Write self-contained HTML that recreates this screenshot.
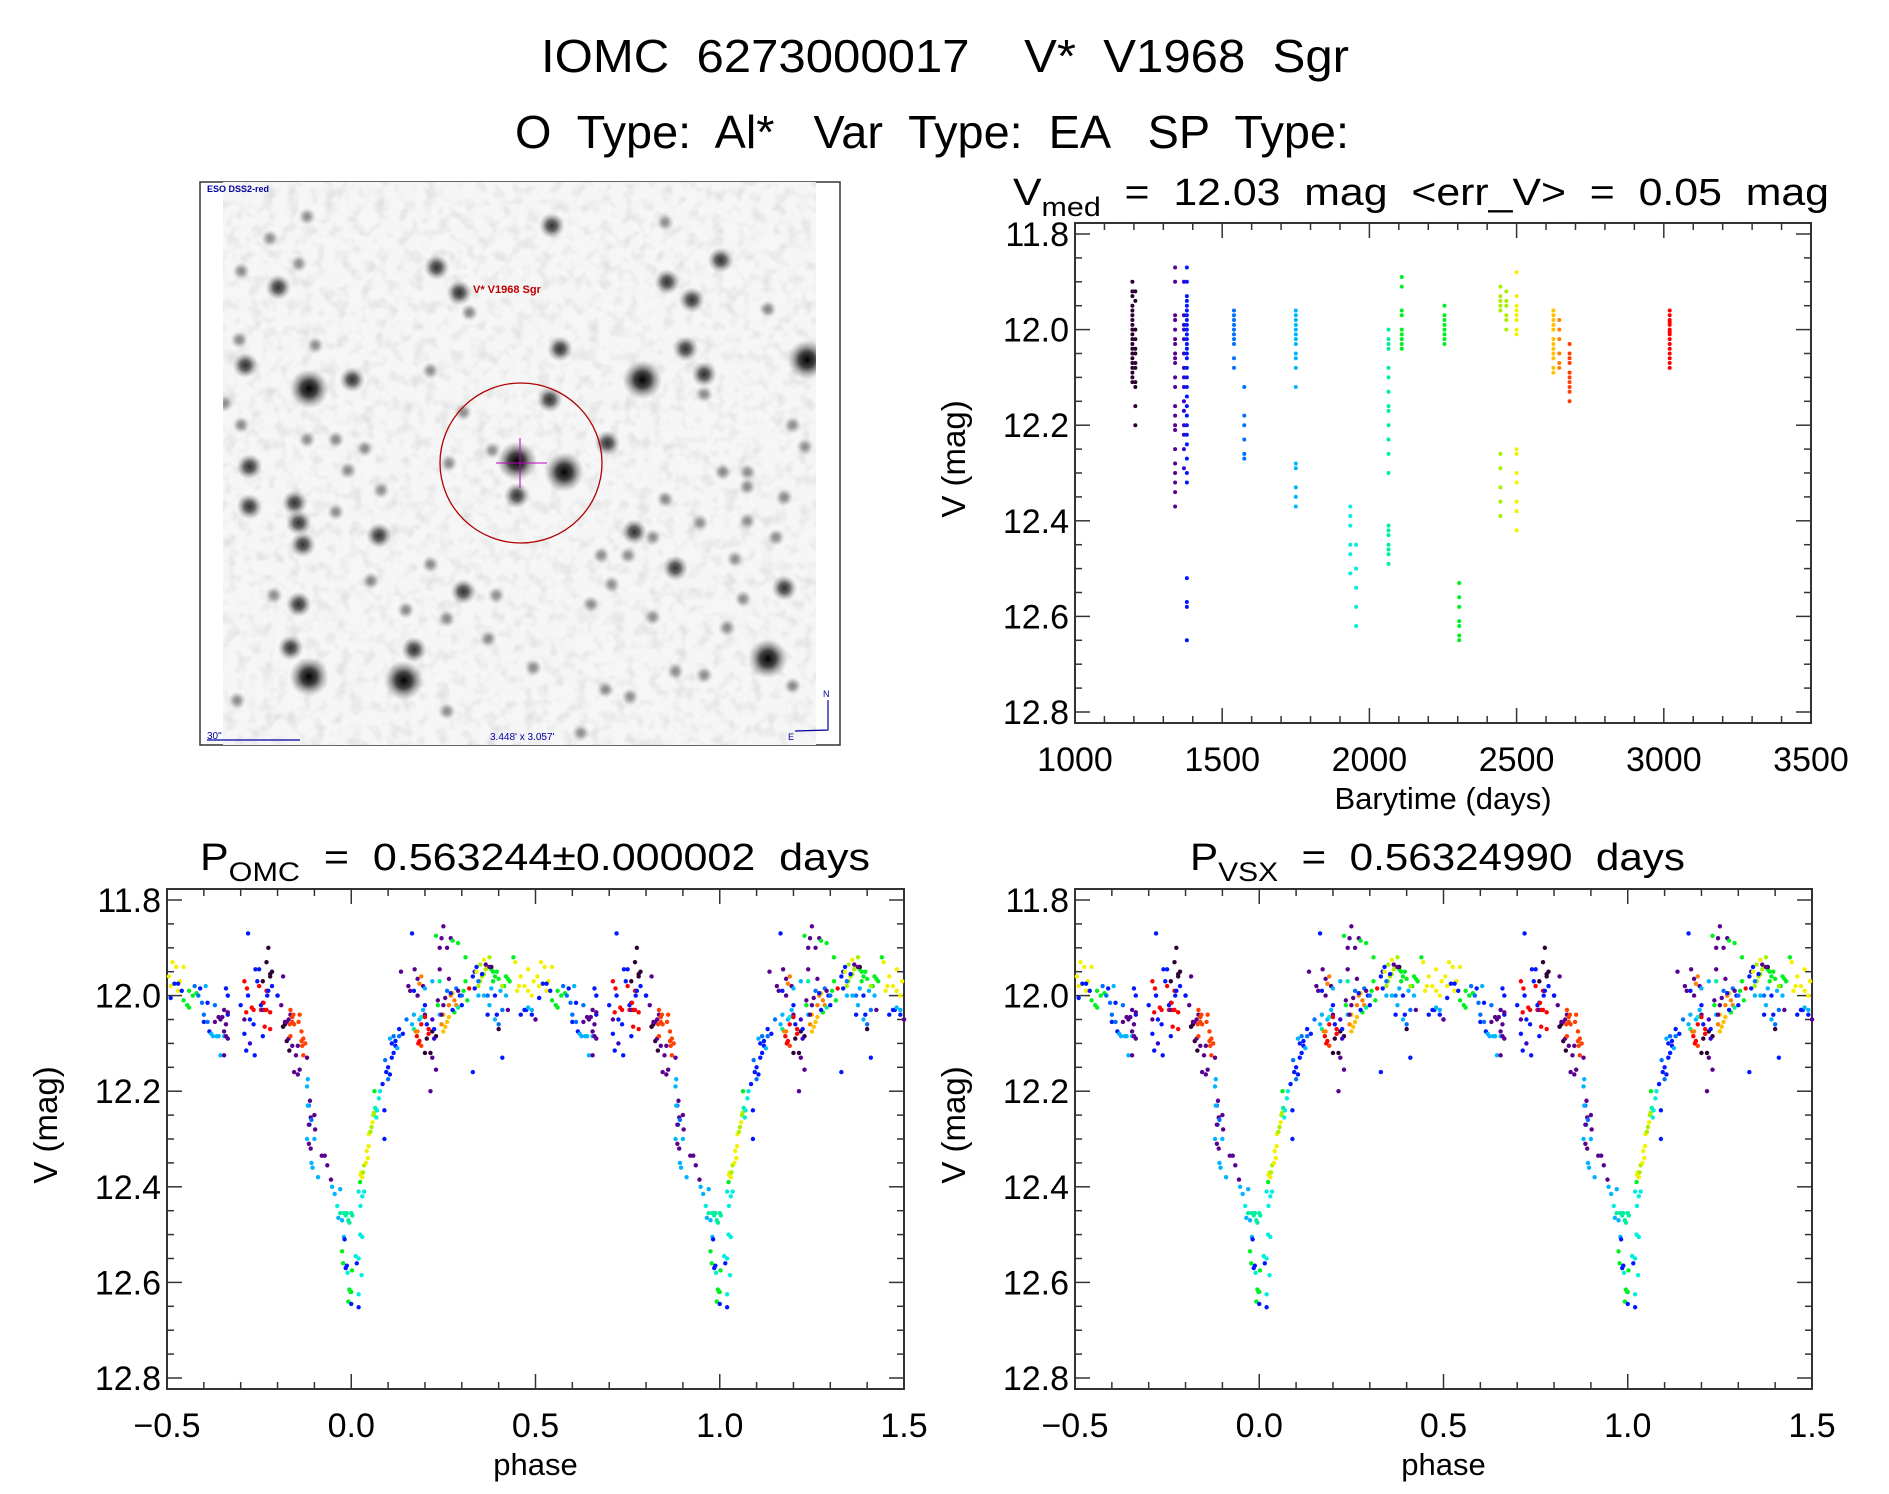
<!DOCTYPE html>
<html><head><meta charset="utf-8"><style>
html,body{margin:0;padding:0;background:#fff;}
svg{display:block;font-family:"Liberation Sans",sans-serif;}
text,tspan{white-space:pre;}
</style></head><body>
<svg id="root" width="1889" height="1494" viewBox="0 0 1889 1494" xml:space="preserve">
<defs>
<radialGradient id="starG"><stop offset="0" stop-color="#000" stop-opacity="1"/><stop offset="0.4" stop-color="#222" stop-opacity="0.85"/><stop offset="1" stop-color="#888" stop-opacity="0"/></radialGradient>
<filter id="noise" x="0" y="0" width="100%" height="100%"><feTurbulence type="fractalNoise" baseFrequency="0.08" numOctaves="2" seed="4"/><feColorMatrix type="matrix" values="0 0 0 0 0.45  0 0 0 0 0.45  0 0 0 0 0.45  0 0 0 1.3 -0.6"/></filter>
<clipPath id="imgClip"><rect x="223" y="182" width="593" height="563"/></clipPath>
</defs>
<text x="945" y="72" font-size="46" text-anchor="middle" textLength="808" lengthAdjust="spacingAndGlyphs">IOMC  6273000017    V*  V1968  Sgr</text>
<text x="932" y="148" font-size="46" text-anchor="middle" textLength="834" lengthAdjust="spacingAndGlyphs">O  Type:  Al*   Var  Type:  EA   SP  Type:</text>

<g id="finder">
<rect x="200" y="182" width="640" height="563" fill="#fff" stroke="#333" stroke-width="1.5"/>
<rect x="223" y="182" width="593" height="563" fill="#f6f6f6"/>
<rect x="223" y="182" width="593" height="563" filter="url(#noise)" opacity="0.6"/>
<g id="stars" clip-path="url(#imgClip)"></g>
<ellipse cx="521" cy="463" rx="81" ry="80" fill="none" stroke="#b00000" stroke-width="1.3"/>
<line x1="496" y1="463" x2="547" y2="463" stroke="#c000c0" stroke-width="1"/>
<line x1="520" y1="438" x2="520" y2="488" stroke="#c000c0" stroke-width="1"/>
<text x="473" y="293" font-size="11" fill="#c00000" font-weight="bold">V* V1968 Sgr</text>
<text x="207" y="192" font-size="9" fill="#0000a0" font-weight="bold">ESO DSS2-red</text>
<text x="207" y="739" font-size="10" fill="#0000a0">30"</text>
<line x1="207" y1="740" x2="300" y2="740" stroke="#0000a0" stroke-width="1.2"/>
<text x="490" y="740" font-size="10" fill="#0000a0">3.448' x 3.057'</text>
<polyline points="795,731 828,730 828,700" fill="none" stroke="#0000a0" stroke-width="1.2"/>
<text x="823" y="697" font-size="9" fill="#0000a0">N</text>
<text x="788" y="740" font-size="9" fill="#0000a0">E</text>
</g>

<g id="tsPanel"></g>
<g id="omcPanel"></g>
<g id="vsxPanel"></g>
</svg>
<script>
// ---------- data ----------
const palette = ["#2e0034","#5a0090","#3a00d0","#0018ff","#0070ff","#00b4ff","#00eee0","#00f0a0","#00f020","#a8f000","#f4f000","#ffc000","#ff8000","#ff4000","#ff0000"];

const clusterTimes  = [1195,1205,1340,1370,1380,1540,1575,1750,1935,1955,2065,2110,2255,2305,2445,2465,2500,2625,2645,2680,3020];
const clusterColors = [0,0,1,2,3,4,4,5,6,6,7,8,8,8,9,9,10,11,12,13,14];
const clusterMags = [
 [11.9,11.92,11.93,11.95,11.96,11.97,11.98,11.99,12.0,12.01,12.02,12.03,12.04,12.05,12.06,12.07,12.08,12.09,12.1,12.11],
 [11.92,11.94,12.0,12.02,12.04,12.05,12.07,12.08,12.11,12.12,12.16,12.2],
 [11.87,11.9,11.97,11.98,12.0,12.02,12.03,12.05,12.06,12.07,12.1,12.12,12.16,12.18,12.2,12.21,12.25,12.28,12.3,12.32,12.34,12.37],
 [11.9,11.97,11.99,12.0,12.02,12.05,12.08,12.1,12.12,12.15,12.17,12.2,12.22,12.25,12.29],
 [11.87,11.9,11.93,11.94,11.95,11.96,11.97,11.98,11.99,12.0,12.01,12.02,12.03,12.04,12.05,12.06,12.08,12.1,12.12,12.14,12.16,12.18,12.2,12.22,12.24,12.27,12.3,12.32,12.52,12.57,12.58,12.65],
 [11.96,11.97,11.98,11.99,12.0,12.01,12.02,12.03,12.06,12.08],
 [12.12,12.18,12.2,12.23,12.26,12.27],
 [11.96,11.97,11.98,11.99,12.0,12.01,12.02,12.03,12.05,12.06,12.08,12.12,12.28,12.29,12.33,12.35,12.37],
 [12.37,12.39,12.41,12.45,12.47,12.51],
 [12.45,12.5,12.54,12.58,12.62],
 [12.0,12.02,12.03,12.04,12.08,12.1,12.13,12.16,12.17,12.2,12.23,12.26,12.3,12.41,12.42,12.43,12.45,12.46,12.47,12.49],
 [11.89,11.91,11.96,11.97,12.0,12.01,12.02,12.03,12.04],
 [11.95,11.97,11.98,11.99,12.0,12.01,12.02,12.03],
 [12.53,12.56,12.58,12.61,12.62,12.64,12.65],
 [11.91,11.93,11.94,11.95,11.96,12.26,12.29,12.33,12.36,12.39],
 [11.92,11.94,11.95,11.97,11.98,12.0],
 [11.88,11.93,11.95,11.96,11.97,11.98,12.0,12.01,12.25,12.26,12.3,12.32,12.36,12.38,12.42],
 [11.96,11.97,11.98,11.99,12.0,12.02,12.03,12.04,12.05,12.06,12.08,12.09],
 [11.98,12.0,12.02,12.05,12.07,12.08],
 [12.03,12.05,12.06,12.07,12.09,12.1,12.11,12.12,12.13,12.15],
 [11.96,11.97,11.98,11.985,11.99,12.0,12.005,12.01,12.02,12.03,12.04,12.05,12.06,12.07,12.08]
];
const timeTicks = [1000,1500,2000,2500,3000,3500];
const magTicks = [11.8,12.0,12.2,12.4,12.6,12.8];
const phaseTicks = [-0.5,0.0,0.5,1.0,1.5];

// phased light curve: phase, magnitude, colour index
const phases = [-0.495,-0.49,-0.485,-0.475,-0.47,-0.465,-0.455,-0.46,-0.49,-0.48,-0.47,-0.455,-0.445,-0.44,-0.43,-0.42,-0.44,-0.425,-0.415,-0.405,-0.41,-0.4,-0.395,-0.4,-0.39,-0.385,-0.38,-0.39,-0.37,-0.365,-0.375,-0.37,-0.36,-0.355,-0.35,-0.345,-0.34,-0.345,-0.355,-0.36,-0.34,-0.335,-0.345,-0.335,-0.335,-0.335,-0.34,-0.345,
 -0.3,-0.29,-0.29,-0.285,-0.285,-0.29,-0.283,-0.28,-0.28,-0.275,-0.275,-0.27,-0.265,-0.265,-0.262,-0.26,-0.255,-0.25,-0.25,-0.245,-0.245,-0.24,-0.24,-0.24,-0.235,-0.235,-0.23,-0.23,-0.228,-0.238,-0.23,-0.24,-0.225,-0.22,-0.22,-0.215,-0.225,-0.22,-0.22,-0.215,-0.2,
 -0.2,-0.185,-0.185,-0.19,-0.185,-0.18,-0.18,-0.175,-0.17,-0.175,-0.168,-0.165,-0.17,-0.167,-0.165,-0.16,-0.16,-0.157,-0.155,-0.16,-0.15,-0.145,-0.143,-0.14,-0.135,-0.133,-0.13,-0.125,-0.13,-0.135,-0.165,-0.155,-0.145,-0.14,-0.12,-0.118,-0.12,-0.112,-0.115,-0.118,-0.11,-0.108,-0.113,-0.115,-0.12,-0.1,-0.1,-0.098,-0.115,-0.11,-0.108,-0.105,-0.09,-0.08,-0.072,-0.065,-0.055,-0.052,-0.045,
 -0.03,-0.038,-0.035,-0.025,-0.02,-0.015,-0.012,-0.008,-0.005,0.0,0.003,-0.03,-0.02,-0.018,-0.025,-0.022,-0.015,-0.012,0.002,0.015,0.012,0.02,0.024,0.03,0.028,-0.01,-0.005,0.0,-0.002,-0.008,0.0,0.02,
 0.02,0.025,0.03,0.035,0.02,0.024,0.025,0.027,0.03,0.032,0.035,0.04,0.042,0.047,0.045,0.048,0.052,0.055,0.058,0.06,0.062,0.065,0.068,0.07,0.075,0.078,0.063,0.09,0.085,
 0.09,0.095,0.1,0.092,0.1,0.105,0.11,0.115,0.12,0.12,0.125,0.13,0.13,0.105,0.11,0.115,0.14,
 0.15,0.155,0.16,0.17,0.172,0.18,0.17,0.165,0.17,0.175,0.178,0.182,0.185,0.19,0.19,0.18,0.185,0.19,0.195,0.2,0.2,0.205,0.21,0.2,0.21,0.205,0.2,0.215,0.22,0.22,0.225,0.23,0.225,0.22,0.215,0.23,0.235,0.24,0.245,0.25,0.255,0.26,0.265,0.25,0.245,0.25,0.255,0.26,0.265,0.27,0.275,0.28,0.285,0.29,0.28,0.275,0.27,0.265,0.285,0.29,0.295,0.3,0.3,0.305,0.31,0.315,0.235,0.24,0.245,0.26,0.25,0.24,0.135,0.165,0.27,0.29,0.275,0.23,0.24,0.22,0.195,0.18,0.19,0.185,0.2,
 0.32,0.33,0.335,0.34,0.345,0.35,0.355,0.36,0.365,0.37,0.34,0.35,0.36,0.375,0.38,0.385,0.39,0.395,0.4,0.385,0.38,0.375,0.365,0.355,0.345,0.335,0.345,0.36,0.37,0.38,0.375,0.37,0.39,0.395,0.4,0.41,0.415,0.42,0.425,0.43,0.41,0.405,0.42,0.425,0.39,0.4,0.41,0.33,0.31,0.44,0.45,0.46,0.47,0.48,0.49,0.455,0.48,0.445,0.46,0.475,0.49,0.5,0.47,0.48,0.5,0.495,0.49];
const mags = [11.96,11.98,11.93,11.94,11.99,11.97,11.94,11.99,12.005,11.975,11.975,12.01,12.02,11.99,12.0,11.995,12.025,11.98,12.0,12.015,11.985,12.04,11.98,12.055,12.055,12.075,12.08,12.015,12.02,12.085,12.085,12.055,12.045,12.05,12.045,12.03,12.06,12.085,12.125,12.085,12.085,12.09,12.075,12.04,12.035,12.0,11.985,12.125,
 12.02,12.05,12.08,12.115,12.035,11.97,11.985,12.0,11.87,12.05,12.1,12.025,12.03,12.06,12.125,11.945,11.97,11.945,11.98,12.03,12.02,12.015,12.085,12.03,12.065,12.03,11.99,12.03,12.0,12.015,11.93,11.97,11.9,11.955,11.96,11.95,11.99,12.035,12.07,11.98,12.0,12.0,
 11.96,12.065,12.02,12.065,12.06,12.055,12.095,12.09,12.055,12.115,12.04,12.05,12.06,12.03,12.055,12.045,12.04,12.06,12.105,12.125,12.105,12.055,12.04,12.075,12.105,12.09,12.1,12.125,12.095,12.085,12.16,12.165,12.155,12.13,12.175,12.19,12.22,12.23,12.23,12.255,12.26,12.27,12.27,12.3,12.3,12.25,12.28,12.31,12.32,12.35,12.36,12.38,12.335,12.335,12.355,12.385,12.4,12.415,12.405,
 12.44,12.465,12.47,12.455,12.46,12.455,12.47,12.475,12.455,12.46,12.455,12.505,12.51,12.535,12.56,12.57,12.565,12.575,12.56,12.545,12.55,12.5,12.505,12.585,12.58,12.615,12.62,12.62,12.64,12.645,12.652,12.625,
 12.44,12.42,12.41,12.41,12.39,12.375,12.37,12.38,12.37,12.355,12.35,12.325,12.315,12.34,12.29,12.285,12.275,12.265,12.25,12.245,12.235,12.255,12.24,12.215,12.2,12.2,12.3,12.185,12.24,
 12.16,12.15,12.135,12.175,12.165,12.13,12.12,12.105,12.095,12.11,12.085,12.07,12.09,12.1,12.085,12.08,12.05,
 11.98,11.99,11.99,11.945,12.0,12.04,12.06,12.07,12.075,12.085,12.1,12.095,12.105,12.06,12.075,12.05,12.045,12.03,12.02,12.04,12.06,12.07,12.045,12.08,12.09,12.12,12.12,12.075,12.05,12.07,12.085,12.09,12.13,12.2,12.155,12.01,12.04,12.06,12.075,12.065,12.055,12.045,12.04,12.04,12.02,12.005,11.99,12.02,12.0,11.995,12.01,12.02,12.025,12.035,12.03,11.995,11.965,11.985,11.99,12.0,12.02,12.0,11.99,11.97,12.01,12.02,11.9,11.88,11.9,11.855,11.945,11.95,11.87,11.88,11.89,11.885,11.875,11.97,11.97,11.98,11.965,11.96,11.975,11.985,11.985,
 11.96,11.95,11.94,11.98,11.97,11.96,11.955,11.945,11.94,11.95,11.935,11.925,11.92,11.945,11.95,11.96,11.95,11.965,11.97,11.94,11.94,11.935,11.955,11.97,11.985,12.0,12.0,12.0,11.985,12.02,12.04,12.05,12.04,12.06,12.03,11.98,11.96,11.965,11.97,11.98,11.99,12.0,12.03,12.0,12.07,12.13,12.16,11.92,11.92,11.99,11.96,11.98,11.99,12.0,11.98,11.945,11.93,12.04,12.03,12.04,12.05,12.03,12.025,12.05,11.97,12.03,12.0];
const colorIdx = [10,10,10,10,10,10,10,3,3,3,3,8,8,8,8,8,8,4,4,4,3,4,5,3,4,3,5,3,4,5,5,1,1,1,1,1,1,5,5,5,1,1,1,3,1,3,3,1,
 3,1,3,3,14,14,14,3,3,3,2,14,14,3,3,3,3,3,14,14,3,3,3,3,14,14,14,14,3,14,0,0,0,0,0,0,3,14,14,3,3,3,
 1,1,1,0,0,1,0,1,1,0,1,1,13,13,13,13,13,13,1,1,1,13,13,13,13,13,13,13,13,13,1,1,1,1,5,5,1,4,5,1,4,4,1,5,5,1,1,1,1,5,5,5,1,1,1,1,5,5,5,
 6,5,5,7,7,7,7,7,7,7,7,5,3,8,8,3,3,8,3,6,6,6,6,6,6,8,8,8,8,3,3,6,
 6,6,6,6,8,10,10,10,9,9,10,10,10,10,10,9,9,10,9,9,7,6,6,6,6,8,3,3,3,
 3,3,4,4,3,3,3,3,3,5,4,3,5,3,4,3,4,
 1,1,3,1,1,5,5,7,12,14,14,14,13,14,12,5,6,5,3,1,3,14,14,14,0,0,0,0,2,3,0,2,1,1,1,1,5,12,11,11,11,11,11,1,1,1,4,12,12,11,12,12,7,8,3,3,1,4,1,3,3,4,8,8,8,8,1,1,1,1,1,1,3,1,8,8,8,7,5,1,1,12,12,5,14,
 3,3,3,9,9,9,9,9,9,10,9,10,9,8,8,8,8,8,8,0,1,1,3,4,3,5,5,4,5,5,3,5,3,4,4,8,8,8,8,9,5,5,1,3,0,3,3,8,8,10,10,10,10,10,10,10,10,3,3,3,3,3,5,1,10,5,1];

// ---------- helpers ----------
const NS = "http://www.w3.org/2000/svg";
function mk(tag, attrs, parent){const e=document.createElementNS(NS,tag);for(const k in attrs)e.setAttribute(k,attrs[k]);parent.appendChild(e);return e;}

function drawAxes(g, box, xTicks, xMinorStep, xMin, xMax, yMinorStep, xLabelFmt, xTitle, yTitle){
  const sx = v => box.x0 + (v - xMin) / (xMax - xMin) * (box.x1 - box.x0);
  const sy = m => box.yA + (m - 11.8) / 1.0 * (box.yB - box.yA);
  const frame = mk("rect",{x:box.x0,y:box.y0,width:box.x1-box.x0,height:box.y1-box.y0,fill:"none",stroke:"#333","stroke-width":2},g);
  
  
  const nx = Math.round((xMax - xMin)/xMinorStep);
  for(let i=0;i<=nx;i++){
    const v = xMin + i*xMinorStep;
    const major = xTicks.some(t=>Math.abs(t-v)<1e-6);
    const L = major?15:7; const X = sx(v);
    mk("line",{x1:X,y1:box.y1,x2:X,y2:box.y1-L,stroke:"#333","stroke-width":1.5},g);
    mk("line",{x1:X,y1:box.y0,x2:X,y2:box.y0+L,stroke:"#333","stroke-width":1.5},g);
  }
  xTicks.forEach(t=>{
    const tx = mk("text",{x:sx(t),y:box.y1+48,"font-size":34,"text-anchor":"middle"},g);
    tx.textContent = xLabelFmt(t);
    
    
  });
  const ny = Math.round(1.0/yMinorStep);
  for(let i=0;i<=ny;i++){
    const m = 11.8 + i*yMinorStep;
    const major = (i % Math.round(0.2/yMinorStep))===0;
    const L = major?15:7; const Y = sy(m);
    mk("line",{x1:box.x0,y1:Y,x2:box.x0+L,y2:Y,stroke:"#333","stroke-width":1.5},g);
    mk("line",{x1:box.x1,y1:Y,x2:box.x1-L,y2:Y,stroke:"#333","stroke-width":1.5},g);
  }
  magTicks.forEach(m=>{
    const ty = mk("text",{x:box.x0-6,y:sy(m)+12,"font-size":34,"text-anchor":"end"},g);
    ty.textContent = m.toFixed(1);
    
    
  });
  const xt = mk("text",{x:(box.x0+box.x1)/2,y:box.y1+86,"font-size":31,"text-anchor":"middle"},g);
  xt.textContent = xTitle;
  
  
  const cy = (box.y0+box.y1)/2 - 14;
  const yt = mk("text",{x:0,y:0,"font-size":33,"text-anchor":"middle",transform:`translate(${box.x0-110},${cy}) rotate(-90)`},g);
  yt.textContent = yTitle;
  
  
  return {sx, sy};
}

function titleWithSub(g, x, y, main, sub, rest, len){
  const t = mk("text",{x:x,y:y,"font-size":38,textLength:len,lengthAdjust:"spacingAndGlyphs"},g);
  
  
  const a = mk("tspan",{},t); a.textContent = main;
  const b = mk("tspan",{dy:11,"font-size":27},t); b.textContent = sub;
  const c = mk("tspan",{dy:-11},t); c.textContent = rest;
}

// ---------- time series panel ----------
(function(){
  const g = document.getElementById("tsPanel");
  
  
  const box = {x0:1075,x1:1811,y0:223,y1:723,yA:234,yB:712};
  const ax = drawAxes(g, box, timeTicks, 100, 1000, 3500, 0.05, t=>String(t), "Barytime (days)", "V (mag)");
  titleWithSub(g, 1013, 205, "V", "med", "  =  12.03  mag  <err_V>  =  0.05  mag", 816);
  clusterTimes.forEach((t,i)=>{
    clusterMags[i].forEach(m=>{
      const c = mk("circle",{cx:ax.sx(t),cy:ax.sy(m),r:2,fill:palette[clusterColors[i]]},g);
      
      
    });
  });
})();

// ---------- phased panels ----------
function phasePanel(id, x0, x1, titleMain, titleSub, titleRest, titleX, titleLen){
  const g = document.getElementById(id);
  
  
  const box = {x0:x0,x1:x1,y0:889,y1:1389,yA:900,yB:1378};
  const ax = drawAxes(g, box, phaseTicks, 0.1, -0.5, 1.5, 0.05, t=>(t<0?"\u22120.5":t.toFixed(1)), "phase", "V (mag)");
  titleWithSub(g, titleX, 870, titleMain, titleSub, titleRest, titleLen);
  [0,1].forEach(shift=>{
    phases.forEach((p,i)=>{
      const ph = p + shift;
      if(ph < -0.5 || ph > 1.5) return;
      const c = mk("circle",{cx:ax.sx(ph),cy:ax.sy(mags[i]),r:2.2,fill:palette[colorIdx[i]]},g);
      
      
    });
  });
}
phasePanel("omcPanel", 167, 904, "P", "OMC", "  =  0.563244\u00b10.000002  days", 200, 670);
phasePanel("vsxPanel", 1075, 1812, "P", "VSX", "  =  0.56324990  days", 1190, 495);

// ---------- finder chart stars ----------
const starX = [770,885,855,1265,1135,1195,1475,1075,265,850,990,770,605,710,120,120,250,230,240,95,110,190,575,630,655,875,1180,1225,1225,360,370,435,100,1155,1040,975,1055,1130,1215,1420,1420,640,240,265,495,1380,520,220,810,1045,985,90,640,1330,1270,1330,925,600,1155,1225,260,170,240,100,1130,280,260,400,440,415,330,560,1000,1300,1380,1440,1470,700,600,1100,1400,180,60,330,500,1320,1100,1280,1330,950,560,720,1440];
const starY = [790,820,140,235,295,345,510,565,590,620,740,885,795,760,805,915,1020,905,960,455,525,310,255,325,380,480,480,550,605,815,565,995,690,1085,1050,1050,985,895,960,1140,890,1150,1185,1385,1395,1335,1310,1305,1360,1440,1420,1450,655,955,820,820,1540,1225,1370,1380,115,175,245,265,130,470,730,755,870,1120,930,1075,1130,1060,370,690,750,1280,1480,1220,1000,1160,630,730,1200,1170,1000,1250,860,1185,540,1160,1410];
const starSize = [3,3,2,2,2,2,3,3,3,2,2,2,1,1,2,2,2,2,2,1,2,2,2,2,1,2,2,2,1,1,2,2,1,2,1,1,2,1,1,2,1,2,2,3,3,3,2,2,1,1,1,1,1,1,1,1,1,1,1,1,1,1,1,1,1,1,1,1,1,1,1,1,1,1,1,1,1,1,1,1,1,1,1,1,1,1,1,1,1,1,1,1,1];
(function(){
  const g = document.getElementById("stars");
  starX.forEach((zx,i)=>{
    const s = starSize[i];
    const r = s===3?20:(s===2?13:9);
    const c = mk("circle",{cx:200+zx/2.43,cy:175+starY[i]/2.76,r:r,fill:"url(#starG)",opacity:s===1?0.45:(s===2?0.8:1)},g);
    
    
  });
})();
</script>
</body></html>
